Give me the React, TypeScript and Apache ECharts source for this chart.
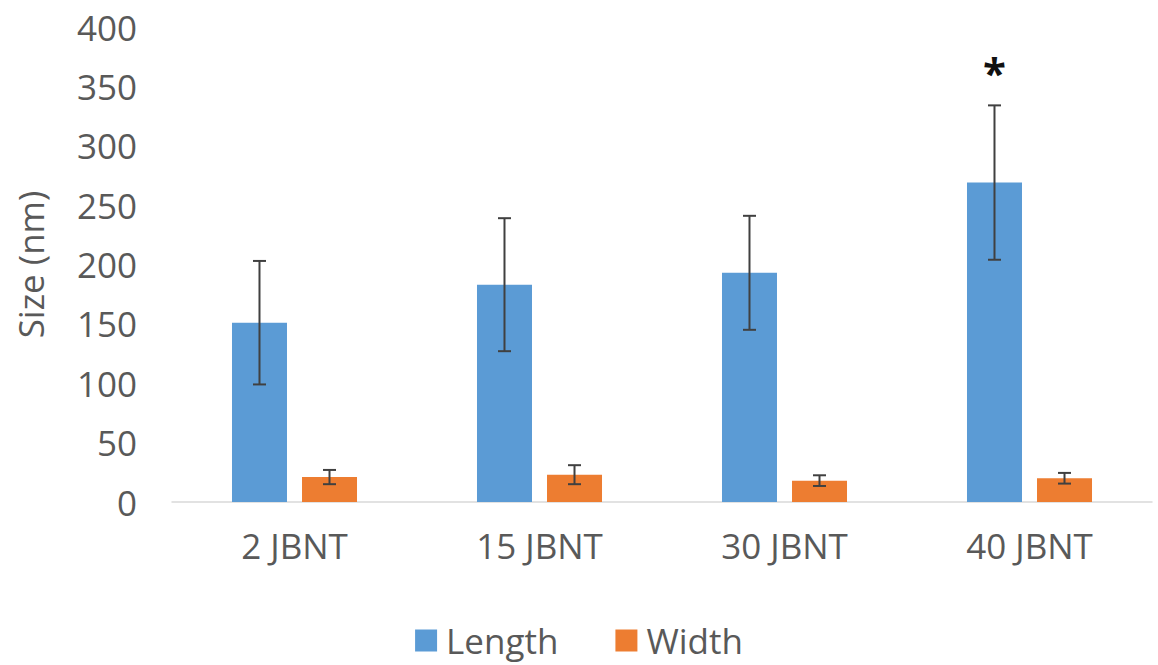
import React, { useEffect, useRef } from "react";
import * as echarts from "echarts";

const categories = ["2 JBNT", "15 JBNT", "30 JBNT", "40 JBNT"];
const lengthValues = [151, 183, 193, 269];
const lengthErrors = [52, 56, 48, 65];
const widthValues = [21, 23, 18, 20];
const widthErrors = [6, 8, 4.5, 4.5];
const significance = ["", "", "", "*"];
const yTicks = { min: 0, max: 400, interval: 50 };

const BAR_PCT = 0.2245;
const GAP_PCT = 0.273;
const FONT = "'Open Sans', 'DejaVu Sans', sans-serif";
const TEXT = "#595959";

function errorSeries(name: string, values: number[], errors: number[], side: number, marks?: string[]) {
  return {
    type: "custom",
    name: name + "-err",
    silent: true,
    z: 5,
    data: values.map((v, i) => [i, v, errors[i]]),
    renderItem: (params: any, api: any) => {
      const idx = api.value(0);
      const v = api.value(1);
      const e = api.value(2);
      const mark = marks ? marks[idx] : "";
      const band = api.size([1, 0])[0];
      const barW = band * BAR_PCT;
      const gap = barW * GAP_PCT;
      const center = api.coord([idx, v]);
      const x = center[0] + side * (barW + gap) / 2;
      const top = api.coord([idx, v + e])[1];
      const bot = api.coord([idx, v - e])[1];
      const cap = 6.5;
      const st = { stroke: "#404040", lineWidth: 2 };
      const children: any[] = [
        { type: "line", shape: { x1: x, y1: top, x2: x, y2: bot }, style: st },
        { type: "line", shape: { x1: x - cap, y1: top, x2: x + cap, y2: top }, style: st },
        { type: "line", shape: { x1: x - cap, y1: bot, x2: x + cap, y2: bot }, style: st },
      ];
      if (mark) {
        children.push({
          type: "text",
          style: {
            text: mark,
            x: x,
            y: top - 34,
            align: "center",
            verticalAlign: "middle",
            fontSize: 42,
            fontWeight: "bold",
            fontFamily: FONT,
            fill: "#111111",
          },
        });
      }
      return { type: "group", children };
    },
  };
}

export default function App() {
  const ref = useRef<HTMLDivElement>(null);
  useEffect(() => {
    if (!ref.current) return;
    const chart = echarts.init(ref.current, null, { renderer: "svg" });
    chart.setOption({
      animation: false,
      backgroundColor: "#ffffff",
      grid: { left: 172, right: 6, top: 27, bottom: 163, containLabel: false, outerBoundsMode: "none" },
      legend: {
        data: ["Length", "Width"],
        left: "center",
        top: 618,
        icon: "rect",
        itemWidth: 22,
        itemHeight: 22,
        itemGap: 57,
        textStyle: { fontSize: 35, color: TEXT, fontFamily: FONT, padding: [0, 0, 0, 4] },
      },
      xAxis: {
        type: "category",
        data: categories,
        axisLine: { lineStyle: { color: "#d9d9d9", width: 1.5 } },
        axisTick: { show: false },
        axisLabel: { fontSize: 35, color: TEXT, fontFamily: FONT, margin: 26 },
      },
      yAxis: {
        type: "value",
        min: yTicks.min,
        max: yTicks.max,
        interval: yTicks.interval,
        name: "Size (nm)",
        nameLocation: "middle",
        nameGap: 124,
        nameTextStyle: { fontSize: 35, color: TEXT, fontFamily: FONT },
        splitLine: { show: false },
        axisLine: { show: false },
        axisTick: { show: false },
        axisLabel: { fontSize: 35, color: TEXT, fontFamily: FONT, margin: 35 },
      },
      series: [
        {
          type: "bar",
          name: "Length",
          data: lengthValues,
          barWidth: (BAR_PCT * 100).toFixed(2) + "%",
          barGap: (GAP_PCT * 100).toFixed(1) + "%",
          itemStyle: { color: "#5b9bd5" },
        },
        {
          type: "bar",
          name: "Width",
          data: widthValues,
          barWidth: (BAR_PCT * 100).toFixed(2) + "%",
          barGap: (GAP_PCT * 100).toFixed(1) + "%",
          itemStyle: { color: "#ed7d31" },
        },
        errorSeries("Length", lengthValues, lengthErrors, -1, significance),
        errorSeries("Width", widthValues, widthErrors, 1),
      ],
    });
    return () => chart.dispose();
  }, []);
  return (
    <div
      ref={ref}
      style={{ position: "fixed", left: 0, top: 0, width: 1158, height: 665, background: "#fff" }}
    />
  );
}
